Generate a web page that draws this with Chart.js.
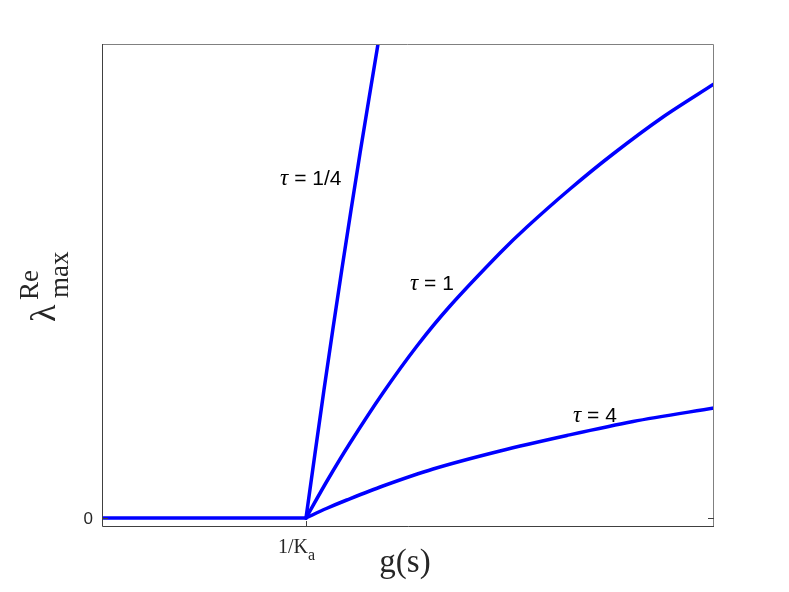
<!DOCTYPE html>
<html>
<head>
<meta charset="utf-8">
<script src="https://cdn.jsdelivr.net/npm/chart.js@4"></script>
<style>
  body { margin: 0; background: #fff; }
  #wrap { width: 789px; height: 592px; }
</style>
</head>
<body>
<div id="wrap"><canvas id="lambdaChart" width="789" height="592"></canvas></div>
<script>
// values (x in units of 1/K_a, y in arbitrary units)
var flatX = [0, 1];
var flatY = [0, 0];
var tauQuarterX = [1, 1.088, 1.176, 1.265, 1.353];
var tauQuarterY = [0, 128, 249, 365, 474];
var tauOneX = [1, 1.103, 1.216, 1.377, 1.544, 1.706, 1.951, 2.083, 2.294, 2.505, 2.75, 3];
var tauOneY = [0, 37, 75, 125, 172, 212, 265, 291, 329, 364, 401, 434];
var tauFourX = [1, 1.1, 1.2, 1.377, 1.623, 1.951, 2.279, 2.603, 3];
var tauFourY = [0, 9.5, 18, 32, 49, 67, 82.5, 96.5, 110];

var xTicks = [1];
var xTickLabels = [['1/K', 'a']];
var yTicks = [0];
var yTickLabels = ['0'];

var curveLabels = ['1/4', '1', '4'];
var labelX = [0.873, 1.51, 2.309];
var labelY = [333, 228, 96];

function pts(xs, ys) {
    return xs.map(function (x, i) { return { x: x, y: ys[i] }; });
}

function lineSet(xs, ys, smooth) {
    return {
        data: pts(xs, ys),
        borderColor: '#0000ff',
        borderWidth: 3.5,
        pointRadius: 0,
        fill: false,
        tension: smooth ? 0.3 : 0,
        borderCapStyle: 'round',
        borderJoinStyle: 'round'
    };
}

var decorations = {
    id: 'decorations',
    afterDraw: function (chart) {
        var ctx = chart.ctx;
        var a = chart.chartArea;
        var xs = chart.scales.x;
        var ys = chart.scales.y;
        ctx.save();

        // frame
        ctx.lineWidth = 1;
        ctx.strokeStyle = '#808080';
        ctx.beginPath();
        ctx.moveTo(a.left, a.top + 0.5);
        ctx.lineTo(a.right - 0.5, a.top + 0.5);
        ctx.lineTo(a.right - 0.5, a.bottom);
        ctx.stroke();
        ctx.strokeStyle = '#404040';
        ctx.beginPath();
        ctx.moveTo(a.left + 0.5, a.top);
        ctx.lineTo(a.left + 0.5, a.bottom - 0.5);
        ctx.lineTo(a.right, a.bottom - 0.5);
        ctx.stroke();

        // inward ticks
        yTicks.forEach(function (v) {
            var py = Math.round(ys.getPixelForValue(v)) + 0.5;
            ctx.beginPath();
            ctx.moveTo(a.left, py); ctx.lineTo(a.left + 6, py);
            ctx.moveTo(a.right, py); ctx.lineTo(a.right - 6, py);
            ctx.stroke();
        });
        xTicks.forEach(function (v) {
            var px = Math.round(xs.getPixelForValue(v)) + 0.5;
            ctx.beginPath();
            ctx.moveTo(px, a.bottom); ctx.lineTo(px, a.bottom - 6);
            ctx.stroke();
        });

        // tick labels
        ctx.fillStyle = '#262626';
        ctx.font = '17px "Liberation Sans", sans-serif';
        ctx.textAlign = 'right';
        ctx.textBaseline = 'middle';
        yTicks.forEach(function (v, i) {
            ctx.fillText(yTickLabels[i], a.left - 9, ys.getPixelForValue(v) + 1);
        });
        ctx.textBaseline = 'alphabetic';
        ctx.textAlign = 'left';
        xTicks.forEach(function (v, i) {
            var px = xs.getPixelForValue(v);
            var main = xTickLabels[i][0], sub = xTickLabels[i][1];
            ctx.font = '20px "Liberation Serif", serif';
            var w1 = ctx.measureText(main).width;
            var x0 = px - 28;
            ctx.fillText(main, x0, a.bottom + 26);
            ctx.font = '16px "Liberation Serif", serif';
            ctx.fillText(sub, x0 + w1, a.bottom + 33);
        });

        // x title
        ctx.font = '33px "Liberation Serif", serif';
        ctx.textAlign = 'center';
        ctx.fillText('g(s)', 405, 572);

        // y title: lambda with Re superscript and max subscript
        ctx.save();
        ctx.translate(55, 322);
        ctx.rotate(-Math.PI / 2);
        ctx.textAlign = 'left';
        ctx.font = '36px "Liberation Serif", serif';
        ctx.fillText('\u03bb', 0, 0);
        ctx.font = '27px "Liberation Serif", serif';
        ctx.fillText('Re', 22, -17);
        ctx.fillText('max', 24, 13);
        ctx.restore();

        // curve labels
        ctx.fillStyle = '#000';
        ctx.textAlign = 'left';
        curveLabels.forEach(function (t, i) {
            var px = xs.getPixelForValue(labelX[i]);
            var py = ys.getPixelForValue(labelY[i]);
            ctx.font = 'italic 23px "Liberation Serif", serif';
            ctx.fillText('\u03c4', px, py);
            var w = ctx.measureText('\u03c4').width;
            ctx.font = '21px "Liberation Sans", sans-serif';
            ctx.fillText(' = ' + t, px + w, py);
        });

        ctx.restore();
    }
};

var ctx = document.getElementById('lambdaChart').getContext('2d');
var chart = new Chart(ctx, {
    type: 'line',
    data: {
        datasets: [
            lineSet(flatX, flatY, false),
            lineSet(tauQuarterX, tauQuarterY, true),
            lineSet(tauOneX, tauOneY, true),
            lineSet(tauFourX, tauFourY, true)
        ]
    },
    options: {
        responsive: false,
        animation: false,
        layout: { padding: { left: 102, right: 75, top: 44, bottom: 65 } },
        plugins: { legend: { display: false }, tooltip: { enabled: false } },
        scales: {
            x: { type: 'linear', min: 0, max: 3, display: false },
            y: { type: 'linear', min: -9, max: 474, display: false }
        }
    },
    plugins: [decorations]
});
</script>
</body>
</html>
